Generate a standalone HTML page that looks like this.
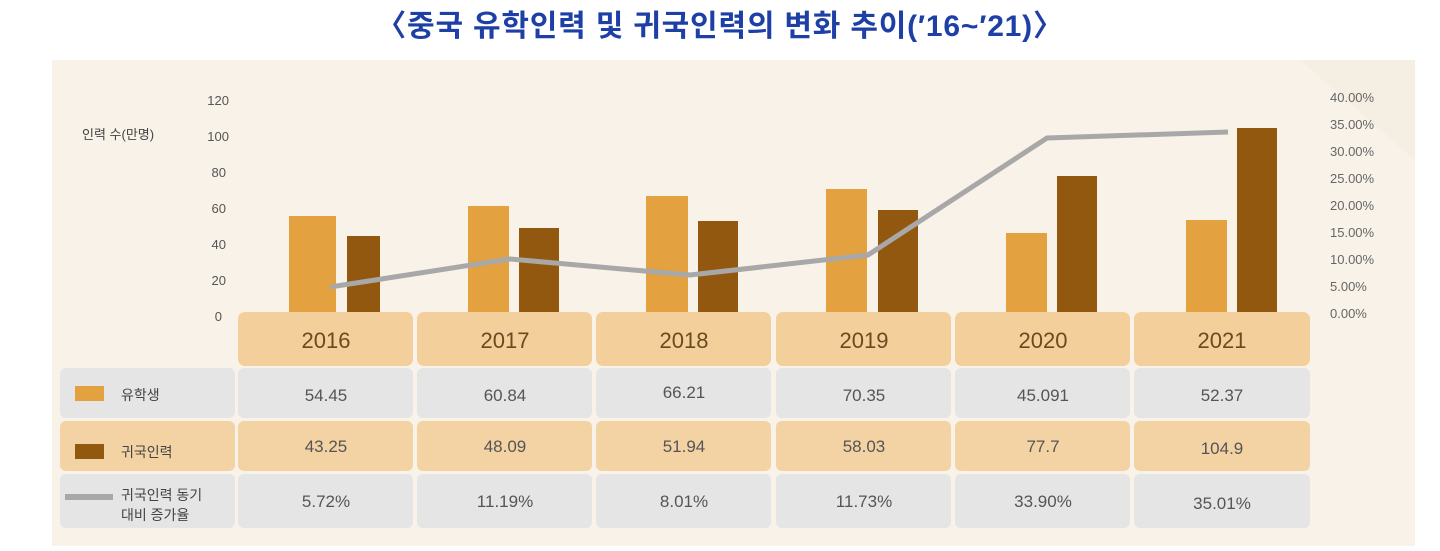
<!DOCTYPE html>
<html><head><meta charset="utf-8"><style>
html,body{margin:0;padding:0;background:#fff;}
body{width:1440px;height:551px;overflow:hidden;position:relative;font-family:"Liberation Sans","Noto Sans CJK KR",sans-serif;}
</style></head><body>
<svg width="1440" height="551" viewBox="0 0 1440 551" xmlns="http://www.w3.org/2000/svg" style="position:absolute;left:0;top:0">
<text x="720" y="36" text-anchor="middle" font-family="'Liberation Sans','Noto Sans CJK KR',sans-serif" font-size="30" font-weight="bold" letter-spacing="0.8" fill="#1d3fa6">〈중국 유학인력 및 귀국인력의 변화 추이(′16~′21)〉</text>
<rect x="52" y="60" width="1363" height="486" fill="#f8f2e8"/>
<polygon points="1300,60 1415,60 1415,160" fill="#f4ebdd" opacity="0.6"/>
<g font-family="'Liberation Sans','Noto Sans CJK KR',sans-serif" font-size="13" fill="#555" text-anchor="end">
<text x="229" y="105">120</text><text x="229" y="141">100</text><text x="226" y="177">80</text><text x="226" y="213">60</text><text x="226" y="249">40</text><text x="226" y="285">20</text><text x="222" y="321">0</text>
</g>
<text x="82" y="139" font-family="'Liberation Sans','Noto Sans CJK KR',sans-serif" font-size="13" fill="#444">인력 수(만명)</text>
<g font-family="'Liberation Sans','Noto Sans CJK KR',sans-serif" font-size="13" fill="#666">
<text x="1330" y="102">40.00%</text><text x="1330" y="129">35.00%</text><text x="1330" y="156">30.00%</text><text x="1330" y="183">25.00%</text><text x="1330" y="210">20.00%</text><text x="1330" y="237">15.00%</text><text x="1330" y="264">10.00%</text><text x="1330" y="291">5.00%</text><text x="1330" y="318">0.00%</text>
</g>
<g fill="#e3a13f">
<rect x="289" y="216" width="47" height="100"/>
<rect x="468" y="206" width="41" height="110"/>
<rect x="646" y="196" width="42" height="120"/>
<rect x="826" y="189" width="41" height="127"/>
<rect x="1006" y="233" width="41" height="83"/>
<rect x="1186" y="220" width="41" height="96"/>
</g>
<g fill="#93580f">
<rect x="347" y="236" width="33" height="80"/>
<rect x="519" y="228" width="40" height="88"/>
<rect x="698" y="221" width="40" height="95"/>
<rect x="878" y="210" width="40" height="106"/>
<rect x="1057" y="176" width="40" height="140"/>
<rect x="1237" y="128" width="40" height="188"/>
</g>
<polyline points="330,287 510,259 690,275 868,255 1047,138 1228,132" fill="none" stroke="#a8a8a8" stroke-width="5" stroke-linejoin="round"/>
<g>
<rect x="238" y="312" width="175" height="54" rx="7" fill="#f2cf9b"/>
<rect x="417" y="312" width="175" height="54" rx="7" fill="#f2cf9b"/>
<rect x="596" y="312" width="175" height="54" rx="7" fill="#f2cf9b"/>
<rect x="776" y="312" width="175" height="54" rx="7" fill="#f2cf9b"/>
<rect x="955" y="312" width="175" height="54" rx="7" fill="#f2cf9b"/>
<rect x="1134" y="312" width="176" height="54" rx="7" fill="#f2cf9b"/>
</g>
<g fill="#e6e5e6">
<rect x="60" y="368" width="175" height="50" rx="6"/>
<rect x="238" y="368" width="175" height="50" rx="6"/><rect x="417" y="368" width="175" height="50" rx="6"/><rect x="596" y="368" width="175" height="50" rx="6"/><rect x="776" y="368" width="175" height="50" rx="6"/><rect x="955" y="368" width="175" height="50" rx="6"/><rect x="1134" y="368" width="176" height="50" rx="6"/>
<rect x="60" y="474" width="175" height="54" rx="6"/>
<rect x="238" y="474" width="175" height="54" rx="6"/><rect x="417" y="474" width="175" height="54" rx="6"/><rect x="596" y="474" width="175" height="54" rx="6"/><rect x="776" y="474" width="175" height="54" rx="6"/><rect x="955" y="474" width="175" height="54" rx="6"/><rect x="1134" y="474" width="176" height="54" rx="6"/>
</g>
<g fill="#f3d3a3">
<rect x="60" y="421" width="175" height="50" rx="6"/>
<rect x="238" y="421" width="175" height="50" rx="6"/><rect x="417" y="421" width="175" height="50" rx="6"/><rect x="596" y="421" width="175" height="50" rx="6"/><rect x="776" y="421" width="175" height="50" rx="6"/><rect x="955" y="421" width="175" height="50" rx="6"/><rect x="1134" y="421" width="176" height="50" rx="6"/>
</g>
<rect x="75" y="386" width="29" height="15" fill="#e3a13f"/>
<rect x="75" y="444" width="29" height="15" fill="#93580f"/>
<rect x="65" y="494" width="48" height="6" fill="#a8a8a8"/>
<g font-family="'Liberation Sans','Noto Sans CJK KR',sans-serif" font-size="14" fill="#444">
<text x="121" y="400">유학생</text>
<text x="121" y="457">귀국인력</text>
<text x="121" y="500">귀국인력 동기</text>
<text x="121" y="520">대비 증가율</text>
</g>
<g font-family="'Liberation Sans','Noto Sans CJK KR',sans-serif" font-size="22" fill="#6b4a1f" text-anchor="middle">
<text x="326" y="348">2016</text><text x="505" y="348">2017</text><text x="684" y="348">2018</text><text x="864" y="348">2019</text><text x="1043" y="348">2020</text><text x="1222" y="348">2021</text>
</g>
<g font-family="'Liberation Sans','Noto Sans CJK KR',sans-serif" font-size="17" fill="#555" text-anchor="middle">
<text x="326" y="401">54.45</text><text x="505" y="401">60.84</text><text x="684" y="398">66.21</text><text x="864" y="401">70.35</text><text x="1043" y="401">45.091</text><text x="1222" y="401">52.37</text>
<text x="326" y="452">43.25</text><text x="505" y="452">48.09</text><text x="684" y="452">51.94</text><text x="864" y="452">58.03</text><text x="1043" y="452">77.7</text><text x="1222" y="454">104.9</text>
<text x="326" y="507">5.72%</text><text x="505" y="507">11.19%</text><text x="684" y="507">8.01%</text><text x="864" y="507">11.73%</text><text x="1043" y="507">33.90%</text><text x="1222" y="509">35.01%</text>
</g>
</svg>
</body></html>
